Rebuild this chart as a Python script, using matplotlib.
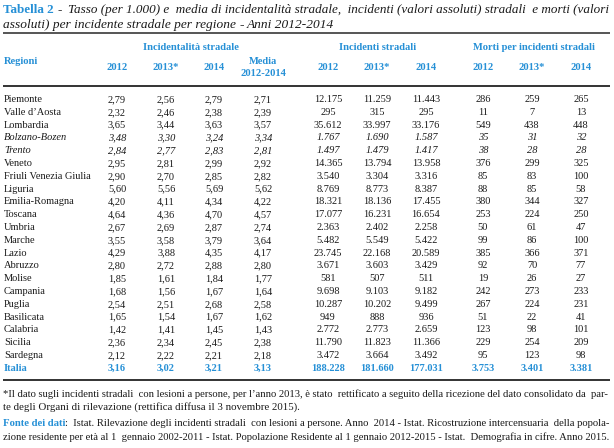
import matplotlib
matplotlib.use("Agg")
import matplotlib.pyplot as plt

plt.rcParams['font.family'] = ['Liberation Serif', 'DejaVu Serif']

BLUE = '#2690d6'
INK = '#1a1a1a'

##### Data #####
regioni = ["Piemonte", "Valle d’Aosta", "Lombardia", "Bolzano-Bozen", "Trento", "Veneto",
           "Friuli Venezia Giulia", "Liguria", "Emilia-Romagna", "Toscana", "Umbria", "Marche",
           "Lazio", "Abruzzo", "Molise", "Campania", "Puglia", "Basilicata", "Calabria",
           "Sicilia", "Sardegna", "Italia"]
italic_rows = ["Bolzano-Bozen", "Trento"]

tasso_2012 = [2.79, 2.32, 3.65, 3.48, 2.84, 2.95, 2.90, 5.60, 4.20, 4.64, 2.67, 3.55,
              4.29, 2.80, 1.85, 1.68, 2.54, 1.65, 1.42, 2.36, 2.12, 3.16]
tasso_2013 = [2.56, 2.46, 3.44, 3.30, 2.77, 2.81, 2.70, 5.56, 4.11, 4.36, 2.69, 3.58,
              3.88, 2.72, 1.61, 1.56, 2.51, 1.54, 1.41, 2.34, 2.22, 3.02]
tasso_2014 = [2.79, 2.38, 3.63, 3.24, 2.83, 2.99, 2.85, 5.69, 4.34, 4.70, 2.87, 3.79,
              4.35, 2.88, 1.84, 1.67, 2.68, 1.67, 1.45, 2.45, 2.21, 3.21]
media = [2.71, 2.39, 3.57, 3.34, 2.81, 2.92, 2.82, 5.62, 4.22, 4.57, 2.74, 3.64,
         4.17, 2.80, 1.77, 1.64, 2.58, 1.62, 1.43, 2.38, 2.18, 3.13]

incidenti_2012 = [12175, 295, 35612, 1767, 1497, 14365, 3540, 8769, 18321, 17077, 2363, 5482,
                  23745, 3671, 581, 9698, 10287, 949, 2772, 11790, 3472, 188228]
incidenti_2013 = [11259, 315, 33997, 1690, 1479, 13794, 3304, 8773, 18136, 16231, 2402, 5549,
                  22168, 3603, 507, 9103, 10202, 888, 2773, 11823, 3664, 181660]
incidenti_2014 = [11443, 295, 33176, 1587, 1417, 13958, 3316, 8387, 17455, 16654, 2258, 5422,
                  20589, 3429, 511, 9182, 9499, 936, 2659, 11366, 3492, 177031]

morti_2012 = [286, 11, 549, 35, 38, 376, 85, 88, 380, 253, 50, 99,
              385, 92, 19, 242, 267, 51, 123, 229, 95, 3753]
morti_2013 = [259, 7, 438, 31, 28, 299, 83, 85, 344, 224, 61, 86,
              366, 70, 26, 273, 224, 22, 98, 254, 123, 3401]
morti_2014 = [265, 13, 448, 32, 28, 325, 100, 58, 327, 250, 47, 100,
              371, 77, 27, 233, 231, 41, 101, 209, 98, 3381]

anni = ["2012", "2013*", "2014"]


def fmt_rate(v):
    return f"{v:.2f}".replace('.', ',')


def fmt_int(v):
    return f"{v:,}".replace(',', '.')


fig = plt.figure(figsize=(6.14, 4.48), dpi=100)
ax = fig.add_axes([0, 0, 1, 1])
ax.set_xlim(0, 614)
ax.set_ylim(448, 0)
ax.axis('off')
renderer = fig.canvas.get_renderer()


def width_of(txt, kw):
    t = ax.text(0, 0, txt, **kw)
    w = t.get_window_extent(renderer).width
    t.remove()
    return w


##### Lines of running text (optionally justified) #####
# one text per style segment; extra room is spread as extra plain spaces,
# so the words of a segment keep one common baseline
def layout_line(segments, x0, k):
    seg_words = [txt.split() for txt, kw in segments]
    gap_i = 0
    pieces = []
    x = x0
    for i, ((txt, kw), words) in enumerate(zip(segments, seg_words)):
        new_word = i > 0 and (txt.startswith(' ') or segments[i - 1][0].endswith(' '))
        if new_word:
            space_w = width_of('a a', kw) - width_of('aa', kw)
            x += space_w * (1 + round((gap_i + 1) * k) - round(gap_i * k))
            gap_i += 1
        s = words[0]
        for w in words[1:]:
            s += ' ' * (1 + round((gap_i + 1) * k) - round(gap_i * k)) + w
            gap_i += 1
        pieces.append((x, s, kw))
        x += width_of(s, kw)
    return pieces, x


def put_line(y, segments, x0=3, x1=609, justify=False):
    segs = [(t, dict(kw)) for t, kw in segments]
    pieces, end0 = layout_line(segs, x0, 0)
    # too long even with single spaces: shrink the type a little
    while justify and end0 > x1:
        for t, kw in segs:
            kw['fontsize'] *= 0.985
        pieces, end0 = layout_line(segs, x0, 0)
    if justify:
        k = 1.0
        for _ in range(6):
            p, end = layout_line(segs, x0, k)
            if abs(end - x1) < 1 or end <= end0:
                break
            k = max(0.0, k * (x1 - end0) / (end - end0))
        pieces, end = layout_line(segs, x0, k)
        while end > x1 + 1 and k > 0:
            k -= 0.05
            pieces, end = layout_line(segs, x0, max(k, 0))
    for x, s, kw in pieces:
        ax.text(x, y, s, va='baseline', ha='left', **kw)


title_bold = dict(fontsize=9.6, color=BLUE, fontweight='bold')
title_dash = dict(fontsize=9.6, color=INK, fontweight='bold')
title_it = dict(fontsize=9.6, color=INK, style='italic')
put_line(13, [("Tabella 2 ", title_bold), ("- ", title_dash),
              ("Tasso (per 1.000) e media di incidentalità stradale, incidenti (valori assoluti) "
               "stradali e morti (valori", title_it)], justify=True)
put_line(28, [("assoluti) per incidente stradale per regione ", title_it), ("- ", title_dash),
              ("Anni 2012-2014", title_it)])

ax.plot([3, 610], [33, 33], color='#555555', lw=1.4, solid_capstyle='butt')
ax.plot([3, 610], [86, 86], color='#333333', lw=1.4, solid_capstyle='butt')
ax.plot([3, 610], [380, 380], color='#333333', lw=1.4, solid_capstyle='butt')

##### Header #####
hdr = dict(fontsize=7.6, color=BLUE, fontweight='bold', ha='center', va='center')
ax.text(4, 61, "Regioni", **dict(hdr, ha='left'))
ax.text(191, 48, "Incidentalità stradale", **hdr)
ax.text(378, 48, "Incidenti stradali", **hdr)
ax.text(534, 48, "Morti per incidenti stradali", **hdr)
ax.text(263, 61, "Media", **hdr)
ax.text(263, 74, "2012-2014", **hdr)

col_rate = [117, 166, 214]
col_inc = [328, 377, 426]
col_morti = [483, 532, 581]
for cols in (col_rate, col_inc, col_morti):
    for x, a in zip(cols, anni):
        ax.text(x, 68, a, **hdr)

##### Body #####
y0, dy = 99.5, 12.8
for i, reg in enumerate(regioni):
    y = y0 + i * dy
    kw = dict(fontsize=7.5, color=INK, va='center')
    if reg in italic_rows:
        kw['style'] = 'italic'
    if reg == "Italia":
        kw.update(color=BLUE, fontweight='bold')
    ax.text(4, y, reg, ha='left', **kw)
    rates = [tasso_2012[i], tasso_2013[i], tasso_2014[i]]
    for x, v in zip(col_rate, rates):
        ax.text(x, y, fmt_rate(v), ha='center', **kw)
    ax.text(263, y, fmt_rate(media[i]), ha='center', **kw)
    for x, v in zip(col_inc, [incidenti_2012[i], incidenti_2013[i], incidenti_2014[i]]):
        ax.text(x, y, fmt_int(v), ha='center', **kw)
    for x, v in zip(col_morti, [morti_2012[i], morti_2013[i], morti_2014[i]]):
        ax.text(x, y, fmt_int(v), ha='center', **kw)

##### Notes #####
note = dict(fontsize=7.8, color=INK)
note_blue = dict(fontsize=7.8, color=BLUE, fontweight='bold')
put_line(397, [("*Il dato sugli incidenti stradali con lesioni a persone, per l’anno 2013, è stato "
                "rettificato a seguito della ricezione del dato consolidato da par-", note)],
         justify=True)
put_line(410, [("te degli Organi di rilevazione (rettifica diffusa il 3 novembre 2015).", note)])
put_line(426, [("Fonte dei dati", note_blue),
               (": Istat. Rilevazione degli incidenti stradali con lesioni a persone. Anno 2014 - "
                "Istat. Ricostruzione intercensuaria della popola-", note)], justify=True)
put_line(440, [("zione residente per età al 1 gennaio 2002-2011 - Istat. Popolazione Residente al "
                "1 gennaio 2012-2015 - Istat. Demografia in cifre. Anno 2015.", note)], justify=True)

plt.savefig("out.png", dpi=100)
